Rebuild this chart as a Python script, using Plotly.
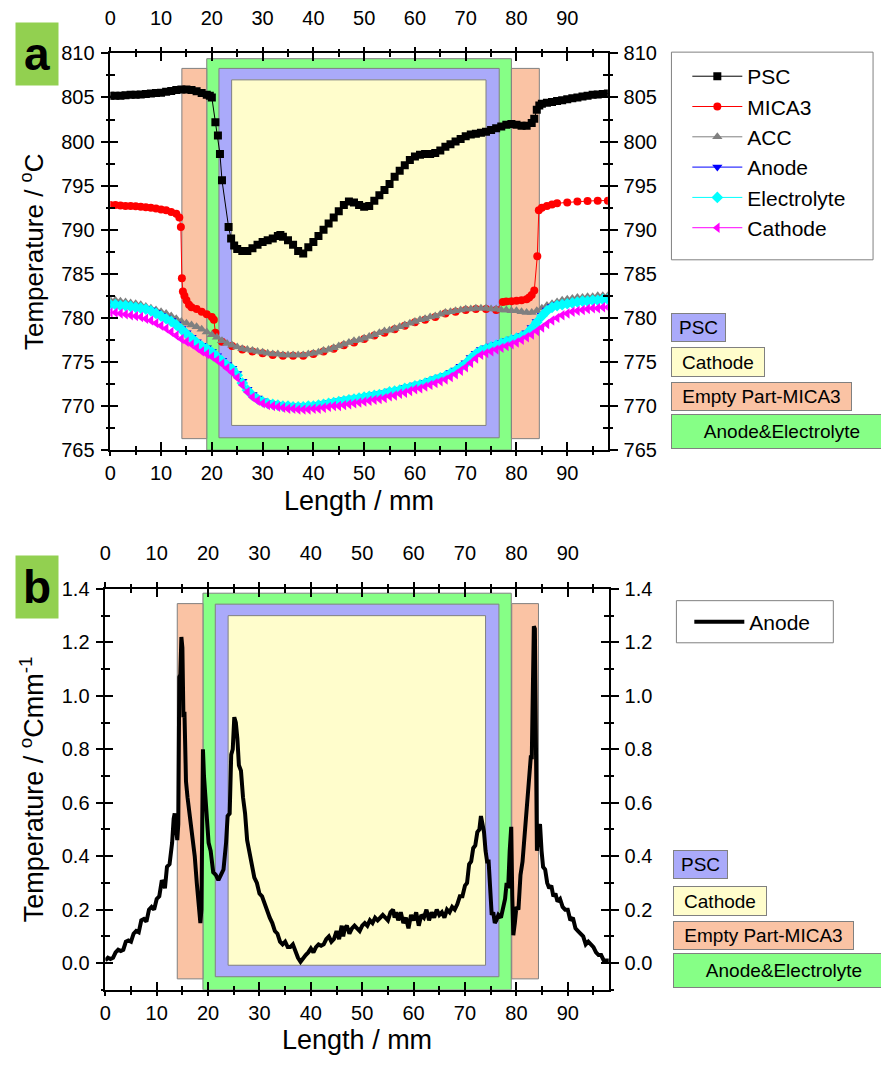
import plotly.graph_objects as go

W, H = 881, 1074
FONT = "Arial, Liberation Sans, sans-serif"

# ---------------- Panel (a) data ----------------
psc_x = [0, 1, 2, 3, 4, 5, 6, 7, 8, 9, 10, 11, 12, 13, 14, 15, 16, 17, 18, 19, 19.6, 20.0,
         20.7, 21.2, 21.6, 22.0, 23.3, 23.8, 24.4, 25, 26, 27, 28, 29, 30, 31, 32, 33, 33.5,
         34, 35, 36, 37, 38, 39, 40, 41, 42, 43, 44, 45, 46, 47, 48, 49, 50, 51, 52, 53, 54,
         55, 56, 57, 58, 59, 60, 61, 62, 63, 64, 65, 66, 67, 68, 69, 70, 71, 72, 73, 74, 75,
         76, 77, 78, 79, 80, 81, 82, 83, 83.5, 84, 84.5, 85, 86, 87, 88, 89, 90, 91, 92, 93,
         94, 95, 96, 97, 98]
psc_y = [805.2, 805.2, 805.2, 805.25, 805.3, 805.3, 805.35, 805.4, 805.45, 805.5, 805.55,
         805.65, 805.75, 805.85, 805.9, 805.9, 805.85, 805.7, 805.5, 805.3, 805.2, 805.0,
         802.2, 800.7, 798.6, 795.6, 790.3, 789.0, 788.2, 787.8, 787.6, 787.6, 787.9, 788.3,
         788.6, 788.8, 789.0, 789.3, 789.4, 789.2, 788.8, 788.3, 787.6, 787.3, 788.0, 788.6,
         789.3, 790.0, 790.7, 791.4, 792.1, 792.8, 793.2, 793.1, 792.8, 792.6, 792.7, 793.3,
         793.9, 794.5, 795.2, 796.0, 796.7, 797.3, 797.9, 798.3, 798.5, 798.6, 798.6, 798.7,
         799.0, 799.4, 799.7, 800.0, 800.3, 800.6, 800.8, 800.9, 801.0, 801.1, 801.3, 801.5,
         801.7, 801.9, 802.0, 801.9, 801.8, 801.8, 802.1, 802.6, 803.6, 804.1, 804.3, 804.4,
         804.5, 804.6, 804.7, 804.8, 804.9, 805.0, 805.1, 805.2, 805.3, 805.35, 805.4, 805.45]

mica3_x = [0, 1, 2, 3, 4, 5, 6, 7, 8, 9, 10, 11, 12, 13, 13.6, 13.9, 14.1, 14.3, 14.6, 15,
           15.5, 16, 17, 18, 19, 20, 20.4, 20.7, 22, 24, 26, 28, 30, 32, 34, 36, 38, 40, 42,
           44, 46, 48, 50, 52, 54, 56, 58, 60, 62, 64, 66, 68, 70, 72, 74, 76, 77.3, 78, 79,
           80, 81, 82, 82.5, 83, 83.5, 84.1, 84.4, 85, 86, 87, 88, 90, 92, 94, 96, 98]
mica3_y = [792.8, 792.8, 792.75, 792.7, 792.7, 792.65, 792.6, 792.55, 792.5, 792.4, 792.3,
           792.2, 792.0, 791.8, 791.4, 790.3, 784.5, 783.0, 782.5, 782.0, 781.5, 781.2,
           781.0, 780.7, 780.4, 780.1, 779.8, 778.3, 777.3, 776.8, 776.4, 776.2, 776.0,
           775.8, 775.7, 775.7, 775.7, 775.9, 776.2, 776.5, 776.9, 777.2, 777.6, 778.0,
           778.3, 778.7, 779.1, 779.5, 779.8, 780.1, 780.5, 780.7, 780.9, 781.0, 781.0,
           780.9, 781.8, 781.85, 781.9, 781.95, 782.0, 782.1, 782.3, 782.6, 783.1, 787.0,
           792.2, 792.5, 792.7, 792.85, 793.0, 793.1, 793.2, 793.25, 793.3, 793.3]

grid_x = list(range(0, 99))  # 0 ... 98 mm, 1 mm step

acc_y = [782.0, 782.0, 781.9, 781.8, 781.7, 781.6, 781.5, 781.3, 781.1, 780.9,
         780.7, 780.5, 780.2, 779.9, 779.6, 779.4, 779.2, 779.0, 778.7, 778.4,
         778.1, 777.8, 777.4, 777.1, 776.9, 776.7, 776.5, 776.4, 776.3, 776.2,
         776.1, 776.0, 775.9, 775.9, 775.8, 775.8, 775.8, 775.8, 775.8, 775.9,
         776.0, 776.1, 776.3, 776.4, 776.6, 776.8, 777.0, 777.2, 777.4, 777.5,
         777.7, 777.9, 778.1, 778.3, 778.5, 778.6, 778.8, 779.0, 779.2, 779.4,
         779.6, 779.8, 779.9, 780.1, 780.2, 780.4, 780.6, 780.7, 780.8, 780.9,
         781.0, 781.0, 781.1, 781.1, 781.1, 781.0, 781.0, 780.9, 780.9, 780.8,
         780.8, 780.7, 780.6, 780.6, 780.8, 781.1, 781.4, 781.6, 781.8, 782.0,
         782.1, 782.2, 782.3, 782.3, 782.4, 782.4, 782.5, 782.5, 782.5]

anode_y = [781.6, 781.6, 781.5, 781.5, 781.4, 781.3, 781.2, 781.1, 780.9, 780.6,
           780.3, 780.0, 779.7, 779.3, 778.8, 778.3, 777.8, 777.3, 776.9, 776.6,
           776.2, 775.7, 775.2, 774.7, 774.3, 773.7, 772.8, 771.9, 771.3, 770.9,
           770.6, 770.4, 770.3, 770.2, 770.1, 770.1, 770.0, 770.0, 770.0, 770.1,
           770.1, 770.2, 770.3, 770.4, 770.5, 770.6, 770.7, 770.8, 770.9, 771.0,
           771.1, 771.2, 771.3, 771.4, 771.5, 771.7, 771.8, 771.9, 772.1, 772.2,
           772.4, 772.5, 772.7, 772.9, 773.1, 773.3, 773.5, 773.8, 774.1, 774.5,
           774.9, 775.5, 776.0, 776.4, 776.6, 776.8, 777.0, 777.2, 777.4, 777.6,
           777.8, 778.0, 778.3, 778.9, 779.6, 780.3, 780.9, 781.3, 781.5, 781.6,
           781.7, 781.8, 781.9, 782.0, 782.0, 782.1, 782.1, 782.2, 782.2]

electrolyte_y = [781.5, 781.5, 781.4, 781.4, 781.3, 781.2, 781.1, 781.0, 780.8, 780.5,
                 780.2, 779.9, 779.6, 779.2, 778.7, 778.2, 777.7, 777.2, 776.8, 776.5,
                 776.1, 775.6, 775.1, 774.6, 774.2, 773.5, 772.6, 771.8, 771.2, 770.8,
                 770.5, 770.3, 770.2, 770.1, 770.0, 770.0, 769.9, 769.9, 769.9, 770.0,
                 770.0, 770.1, 770.2, 770.3, 770.4, 770.5, 770.6, 770.7, 770.8, 770.9,
                 771.0, 771.1, 771.2, 771.3, 771.4, 771.6, 771.7, 771.8, 772.0, 772.1,
                 772.3, 772.4, 772.6, 772.8, 773.0, 773.2, 773.4, 773.7, 774.0, 774.4,
                 774.8, 775.4, 775.9, 776.3, 776.5, 776.7, 776.9, 777.1, 777.3, 777.5,
                 777.7, 777.9, 778.2, 778.8, 779.5, 780.2, 780.8, 781.2, 781.4, 781.5,
                 781.6, 781.7, 781.8, 781.9, 781.9, 782.0, 782.0, 782.1, 782.1]

cathode_y = [780.6, 780.6, 780.5, 780.4, 780.3, 780.2, 780.1, 779.9, 779.7, 779.4,
             779.1, 778.8, 778.4, 778.0, 777.6, 777.3, 777.0, 776.6, 776.2, 775.9,
             775.6, 775.2, 774.8, 774.3, 773.8, 773.2, 772.4, 771.6, 771.0, 770.6,
             770.3, 770.1, 770.0, 769.9, 769.8, 769.7, 769.7, 769.6, 769.6, 769.6,
             769.7, 769.7, 769.8, 769.9, 770.0, 770.0, 770.1, 770.2, 770.3, 770.4,
             770.5, 770.6, 770.7, 770.8, 770.9, 771.1, 771.2, 771.4, 771.5, 771.7,
             771.9, 772.0, 772.2, 772.4, 772.6, 772.8, 773.0, 773.3, 773.6, 774.0,
             774.4, 774.9, 775.4, 775.8, 776.0, 776.2, 776.4, 776.6, 776.8, 777.0,
             777.2, 777.5, 777.8, 778.1, 778.5, 778.9, 779.3, 779.7, 780.0, 780.3,
             780.5, 780.7, 780.8, 780.9, 781.0, 781.1, 781.1, 781.2, 781.2]

# ---------------- Panel (b) data ----------------
grad_x = [0.0, 0.5, 1.0, 1.5, 2.0, 2.5, 3.0, 3.5, 4.0, 4.5, 5.0, 5.5, 6.0, 6.5, 7.0, 7.5, 8.0,
          8.5, 9.0, 9.5, 10.0, 10.5, 11.0, 11.3, 11.6, 12.0, 12.5, 13.0, 13.3, 13.5, 13.8,
          14.0, 14.2, 14.3, 14.4, 14.6, 14.8, 15.0, 15.2, 15.4, 15.5, 15.7, 16.0, 16.5, 17.0,
          17.4, 17.8, 18.1, 18.3, 18.5, 18.7, 18.9, 19.0, 19.2, 19.5, 19.8, 20.1, 20.5, 21.0,
          21.5, 22.0, 22.5, 23.0, 23.5, 23.8, 24.2, 24.5, 24.8, 25.1, 25.4, 25.7, 26.0, 26.4,
          26.8, 27.2, 27.6, 28.0, 28.5, 29.0, 29.5, 30.0, 30.5, 31.0, 31.5, 32.0, 32.5, 33.0,
          33.5, 34.0, 34.5, 35.0, 35.5, 36.0, 36.5, 37.0, 37.5, 38.0, 38.5, 39.0, 39.5, 40.0,
          40.5, 41.0, 41.5, 42.0, 42.5, 43.0, 43.5, 44.0, 44.5, 45.0, 45.5, 46.0, 46.3, 46.6,
          47.0, 47.5, 48.0, 48.5, 49.0, 49.5, 50.0, 50.5, 51.0, 51.5, 52.0, 52.5, 53.0, 53.5,
          54.0, 54.5, 55.0, 55.5, 56.0, 56.3, 56.6, 57.0, 57.5, 58.0, 58.5, 59.0, 59.5, 60.0,
          60.5, 61.0, 61.5, 62.0, 62.5, 63.0, 63.5, 64.0, 64.5, 65.0, 65.5, 66.0, 66.5, 67.0,
          67.5, 68.0, 68.5, 69.0, 69.5, 70.0, 70.4, 70.8, 71.2, 71.6, 72.0, 72.4, 72.8, 73.1,
          73.4, 73.7, 74.0, 74.3, 74.6, 74.9, 75.2, 75.5, 75.8, 76.1, 76.5, 77.0, 77.4, 77.8,
          78.1, 78.4, 78.7, 79.0, 79.2, 79.4, 79.7, 80.0, 80.4, 80.8, 81.2, 81.6, 82.0, 82.4,
          82.8, 83.0, 83.2, 83.4, 83.6, 83.8, 84.0, 84.3, 84.6, 84.9, 85.2, 85.6, 86.0, 86.4,
          86.8, 87.2, 87.6, 88.0, 88.5, 89.0, 89.5, 90.0, 90.5, 91.0, 91.5, 92.0, 92.5, 93.0,
          93.5, 94.0, 94.5, 95.0, 95.5, 96.0, 96.5, 97.0, 97.5, 98.0]
grad_y = [0.01, 0.02, 0.015, 0.02, 0.04, 0.05, 0.045, 0.05, 0.08, 0.085, 0.08, 0.11, 0.12,
          0.115, 0.16, 0.165, 0.155, 0.20, 0.21, 0.20, 0.24, 0.25, 0.31, 0.30, 0.28, 0.36,
          0.37, 0.45, 0.54, 0.56, 0.50, 0.46, 0.52, 0.95, 1.07, 1.08, 1.22, 1.18, 0.92, 0.94,
          0.75, 0.68, 0.62, 0.54, 0.45, 0.40, 0.30, 0.22, 0.18, 0.15, 0.20, 0.55, 0.80, 0.70,
          0.62, 0.55, 0.45, 0.42, 0.34, 0.33, 0.31, 0.33, 0.35, 0.45, 0.55, 0.56, 0.78, 0.80,
          0.92, 0.90, 0.84, 0.74, 0.72, 0.62, 0.56, 0.46, 0.42, 0.37, 0.32, 0.30, 0.26, 0.25,
          0.22, 0.20, 0.17, 0.15, 0.12, 0.11, 0.08, 0.07, 0.08, 0.06, 0.06, 0.07, 0.04, 0.02,
          0.005, 0.02, 0.03, 0.04, 0.055, 0.04, 0.06, 0.07, 0.065, 0.07, 0.09, 0.10, 0.08,
          0.09, 0.12, 0.09, 0.14, 0.10, 0.13, 0.14, 0.11, 0.13, 0.14, 0.13, 0.12, 0.14, 0.15,
          0.14, 0.16, 0.15, 0.17, 0.16, 0.17, 0.18, 0.17, 0.16, 0.19, 0.20, 0.17, 0.19, 0.16,
          0.19, 0.15, 0.17, 0.13, 0.18, 0.16, 0.19, 0.14, 0.18, 0.17, 0.20, 0.16, 0.19, 0.17,
          0.20, 0.18, 0.19, 0.17, 0.20, 0.19, 0.21, 0.20, 0.22, 0.25, 0.25, 0.29, 0.30, 0.37,
          0.38, 0.43, 0.44, 0.49, 0.50, 0.55, 0.52, 0.49, 0.42, 0.38, 0.38, 0.24, 0.18, 0.19,
          0.15, 0.16, 0.18, 0.17, 0.20, 0.24, 0.30, 0.28, 0.42, 0.51, 0.25, 0.104, 0.15, 0.21,
          0.20, 0.33, 0.38, 0.48, 0.58, 0.64, 0.77, 0.77, 0.96, 1.26, 1.25, 0.55, 0.42, 0.50,
          0.52, 0.42, 0.36, 0.35, 0.30, 0.28, 0.29, 0.25, 0.26, 0.23, 0.24, 0.21, 0.20, 0.20,
          0.16, 0.17, 0.13, 0.12, 0.11, 0.10, 0.07, 0.08, 0.07, 0.06, 0.04, 0.03, 0.03, 0.01,
          0.01, 0.01]

# ---------------- Region rectangles (data units) ----------------
# (x0, x1, y0, y1) for panel a and panel b
reg_a = {
    "green":  (19.0, 79.0, 765.0, 809.4),
    "salmonL": (14.1, 19.0, 766.3, 808.3),
    "salmonR": (79.0, 84.5, 766.3, 808.3),
    "blue":   (21.4, 76.6, 766.4, 808.3),
    "yellow": (23.9, 74.0, 767.8, 807.0),
}
reg_b = {
    "green":  (19.0, 79.0, -0.1, 1.384),
    "salmonL": (14.0, 19.0, -0.059, 1.345),
    "salmonR": (79.1, 84.3, -0.059, 1.345),
    "blue":   (21.4, 76.6, -0.051, 1.343),
    "yellow": (23.9, 74.0, -0.008, 1.30),
}
COL = {"green": "#86FF86", "salmonL": "#FAC3A4", "salmonR": "#FAC3A4",
       "blue": "#AAAAFA", "yellow": "#FFFDCC"}
order = ["green", "salmonL", "salmonR", "blue", "yellow"]

fig = go.Figure()

series = [
    ("PSC", psc_x, psc_y, "black", "square", 8),
    ("MICA3", mica3_x, mica3_y, "#FF0000", "circle", 8),
    ("ACC", grid_x, acc_y, "#808080", "triangle-up", 9),
    ("Anode", grid_x, anode_y, "#0000FF", "triangle-down", 9),
    ("Electrolyte", grid_x, electrolyte_y, "#00FFFF", "diamond", 9),
    ("Cathode", grid_x, cathode_y, "#FF00FF", "triangle-left", 9),
]
for name, xs, ys, c, sym, sz in series:
    fig.add_trace(go.Scatter(x=xs, y=ys, name=name, mode="lines+markers",
                             line=dict(color=c, width=1),
                             marker=dict(symbol=sym, size=sz, color=c, line=dict(width=0)),
                             xaxis="x", yaxis="y", legend="legend"))

fig.add_trace(go.Scatter(x=grad_x, y=grad_y, name="Anode", mode="lines",
                         line=dict(color="black", width=4),
                         xaxis="x5", yaxis="y5", legend="legend2"))

# empty traces so the overlay axes get drawn
for k in [2, 3, 4, 6, 7, 8]:
    fig.add_trace(go.Scatter(x=[], y=[], xaxis=f"x{k}", yaxis=f"y{k}",
                             showlegend=False, hoverinfo="skip"))

# region shapes
for reg, xr, yr in [(reg_a, "x", "y"), (reg_b, "x5", "y5")]:
    for key in order:
        x0, x1, y0, y1 = reg[key]
        fig.add_shape(type="rect", xref=xr, yref=yr, x0=x0, x1=x1, y0=y0, y1=y1,
                      fillcolor=COL[key], line=dict(color="#808080", width=1), layer="below")

dom_ax = [105 / W, 606 / W]
dom_ay = [1 - 448.3 / H, 1 - 43.3 / H]
dom_bx = [100 / W, 607 / W]
dom_by = [1 - 999.3 / H, 1 - 590 / H]

tickfont = dict(family=FONT, size=20, color="black")


def xax(rng, side, inside, labels, overlay=None, anchor=None, domain=None, title=None):
    top = side == "top"
    d = dict(range=rng, side=side, showgrid=False, zeroline=False,
             tick0=0, dtick=10, ticks="inside" if inside else "outside",
             ticklen=8 if inside else (5 if top else 4), tickwidth=1.5, tickcolor="black",
             minor=dict(ticks="inside" if inside else "outside", ticklen=4 if inside else 3,
                        tickwidth=1.5, tickcolor="black", dtick=5, tick0=0),
             showticklabels=labels, tickfont=tickfont,
             ticklabelstandoff=14 if top else 0,
             showline=(not inside), linecolor="black", linewidth=1.5, fixedrange=True)
    if overlay:
        d["overlaying"] = overlay
    if anchor:
        d["anchor"] = anchor
    if domain:
        d["domain"] = domain
    if title:
        d["title"] = dict(text=title, font=dict(family=FONT, size=27, color="black"),
                          standoff=8)
    return d


def yax(rng, dt, mdt, t0, side, inside, labels, overlay=None, anchor=None, domain=None,
        title=None, fmt=None, tsize=26):
    d = dict(range=rng, side=side, showgrid=False, zeroline=False,
             tick0=t0, dtick=dt, ticks="inside" if inside else "outside",
             ticklen=8, tickwidth=1.5, tickcolor="black",
             minor=dict(ticks="inside" if inside else "outside", ticklen=5 if inside else 3,
                        tickwidth=1.5, tickcolor="black", dtick=mdt, tick0=t0),
             showticklabels=labels, tickfont=tickfont, ticklabelstandoff=2,
             showline=(not inside), linecolor="black", linewidth=1.5, fixedrange=True)
    if fmt:
        d["tickformat"] = fmt
    if overlay:
        d["overlaying"] = overlay
    if anchor:
        d["anchor"] = anchor
    if domain:
        d["domain"] = domain
    if title:
        d["title"] = dict(text=title, font=dict(family=FONT, size=tsize, color="black"),
                          standoff=10)
    return d


XR = [0, 98]
YA = [765, 810]
YB = [-0.1, 1.4]

layout = dict(
    width=W, height=H, margin=dict(l=0, r=0, t=0, b=0),
    paper_bgcolor="white", plot_bgcolor="rgba(0,0,0,0)",
    font=dict(family=FONT, color="black"),
    xaxis=xax(XR, "bottom", False, True, anchor="y", domain=dom_ax, title="Length / mm"),
    xaxis2=xax(XR, "top", False, True, overlay="x", anchor="y"),
    xaxis3=xax(XR, "bottom", True, False, overlay="x", anchor="y"),
    xaxis4=xax(XR, "top", True, False, overlay="x", anchor="y"),
    yaxis=yax(YA, 5, 2.5, 765, "left", False, True, anchor="x", domain=dom_ay,
              title="Temperature / <sup>o</sup>C", tsize=26),
    yaxis2=yax(YA, 5, 2.5, 765, "right", False, True, overlay="y", anchor="x"),
    yaxis3=yax(YA, 5, 2.5, 765, "left", True, False, overlay="y", anchor="x"),
    yaxis4=yax(YA, 5, 2.5, 765, "right", True, False, overlay="y", anchor="x"),
    xaxis5=xax(XR, "bottom", False, True, anchor="y5", domain=dom_bx, title="Length / mm"),
    xaxis6=xax(XR, "top", False, True, overlay="x5", anchor="y5"),
    xaxis7=xax(XR, "bottom", True, False, overlay="x5", anchor="y5"),
    xaxis8=xax(XR, "top", True, False, overlay="x5", anchor="y5"),
    yaxis5=yax(YB, 0.2, 0.1, 0, "left", False, True, anchor="x5", domain=dom_by,
               title="Temperature / <sup>o</sup>Cmm<sup>-1</sup>", fmt=".1f", tsize=27),
    yaxis6=yax(YB, 0.2, 0.1, 0, "right", False, True, overlay="y5", anchor="x5", fmt=".1f"),
    yaxis7=yax(YB, 0.2, 0.1, 0, "left", True, False, overlay="y5", anchor="x5"),
    yaxis8=yax(YB, 0.2, 0.1, 0, "right", True, False, overlay="y5", anchor="x5"),
    legend=dict(x=686 / W, y=1 - 46 / H, xanchor="left", yanchor="top",
                font=dict(family=FONT, size=21, color="black"),
                bgcolor="rgba(0,0,0,0)", borderwidth=0, itemwidth=50, tracegroupgap=0),
    legend2=dict(x=688 / W, y=1 - 603 / H, xanchor="left", yanchor="top",
                 font=dict(family=FONT, size=21, color="black"),
                 bgcolor="rgba(0,0,0,0)", borderwidth=0, itemwidth=50),
    showlegend=True,
)
fig.update_layout(**layout)

# legend frames
fig.add_shape(type="rect", xref="paper", yref="paper", x0=670 / W, x1=873 / W,
              y0=1 - 254 / H, y1=1 - 42 / H, line=dict(color="#808080", width=1),
              fillcolor="rgba(0,0,0,0)", layer="above")
fig.add_shape(type="rect", xref="paper", yref="paper", x0=675 / W, x1=833 / W,
              y0=1 - 645 / H, y1=1 - 602 / H, line=dict(color="#808080", width=1),
              fillcolor="rgba(0,0,0,0)", layer="above")

# panel labels
for txt, yc in [("a", 44), ("b", 588)]:
    fig.add_annotation(xref="paper", yref="paper", x=31 / W, y=1 - yc / H,
                       xanchor="center", yanchor="middle", text=f"<b>{txt}</b>",
                       showarrow=False, bgcolor="#92D050", width=42, height=62,
                       borderpad=0, font=dict(family=FONT, size=46, color="black"))

# region key boxes
keys = [("PSC", "blue", 53, 27), ("Cathode", "yellow", 92, 28),
        ("Empty Part-MICA3", "salmonL", 179, 27), ("Anode&Electrolyte", "green", 220, 33)]
tops_a = [308, 343, 379, 411]
tops_b = [857, 893, 929, 962]
for tops, xl in [(tops_a, 670), (tops_b, 672)]:
    for (lab, key, w, h), t in zip(keys, tops):
        fig.add_annotation(xref="paper", yref="paper", x=xl / W, y=1 - t / H,
                           xanchor="left", yanchor="top", text=lab, showarrow=False,
                           bgcolor=COL[key], bordercolor="#808080", borderwidth=1,
                           borderpad=0, width=w, height=h, align="center",
                           font=dict(family=FONT, size=19, color="black"))

fig.write_html("out.html")
